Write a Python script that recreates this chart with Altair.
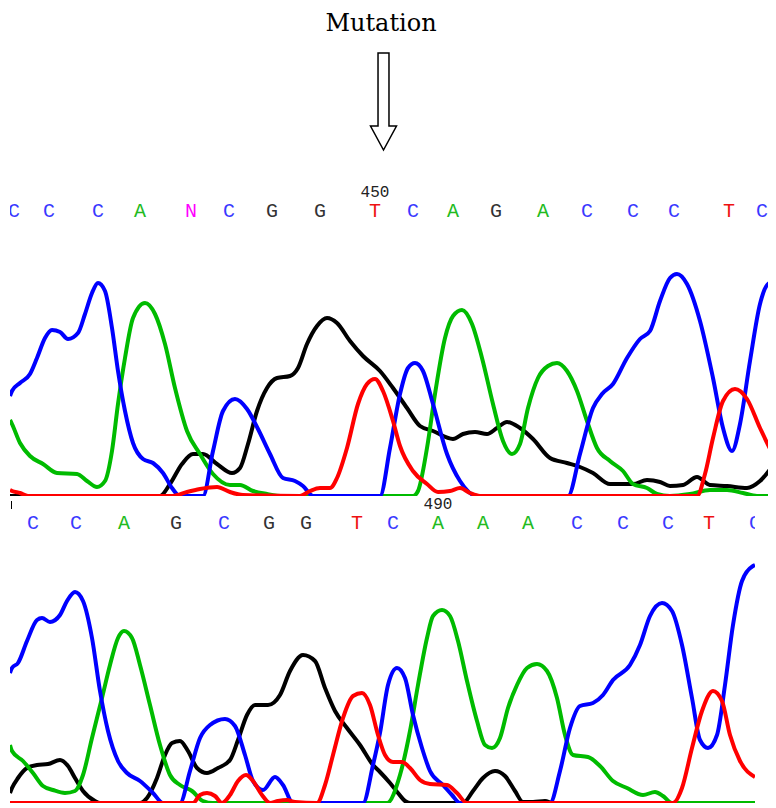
import altair as alt
import pandas as pd

# ---------------- data ----------------
# Base calls (letter, scan position) for the two chromatogram rows
TOP_BASES = ["C", "C", "C", "A", "N", "C", "G", "G", "T", "C", "A", "G", "A", "C", "C", "C", "T", "C"]
TOP_POS = [14, 49, 98, 140, 191, 229, 272, 320, 375, 413, 453, 496, 543, 587, 633, 674, 729, 762]
BOTTOM_BASES = ["C", "C", "A", "G", "C", "G", "G", "T", "C", "A", "A", "A", "C", "C", "C", "T", "C"]
BOTTOM_POS = [33, 76, 124, 176, 224, 269, 306, 357, 393, 438, 483, 528, 577, 623, 668, 709, 755]

TOP_LABEL = ["450"]
TOP_LABEL_POS = [375]
BOTTOM_LABEL = ["490"]
BOTTOM_LABEL_POS = [438]

TITLE = ["Mutation"]

# Traces: (scan, signal)
TOP_G = [(10, 0), (160, 0), (170, 12), (182, 32), (193, 42), (203, 42), (217, 32), (232, 23), (240, 28),
         (248, 52), (257, 85), (267, 108), (277, 118), (290, 120), (298, 128), (307, 152), (317, 170),
         (327, 178), (337, 173), (350, 155), (363, 140), (380, 125), (393, 108), (407, 88), (420, 70),
         (433, 65), (453, 57), (463, 62), (475, 64), (487, 62), (497, 68), (507, 74), (520, 68), (533, 57),
         (550, 38), (567, 33), (580, 29), (593, 23), (610, 12), (633, 12), (647, 16), (660, 14), (670, 10),
         (683, 11), (697, 19), (710, 11), (727, 10), (747, 8), (760, 15), (776, 35)]
TOP_A = [(10, 76), (12, 72), (20, 53), (30, 40), (43, 32), (57, 23), (77, 22), (87, 15), (97, 9), (105, 15),
         (112, 45), (118, 92), (125, 138), (133, 178), (145, 193), (155, 182), (165, 152), (175, 108),
         (187, 65), (200, 42), (213, 22), (230, 11), (240, 11), (253, 5), (267, 2), (283, 0), (413, 0),
         (418, 5), (427, 48), (435, 102), (445, 158), (453, 180), (462, 186), (472, 172), (482, 138),
         (493, 92), (503, 55), (512, 42), (520, 52), (528, 88), (538, 118), (548, 130), (557, 133),
         (567, 125), (577, 105), (587, 75), (597, 48), (610, 35), (623, 25), (633, 12), (647, 8), (657, 2),
         (670, 0), (690, 2), (710, 6), (727, 6), (743, 3), (757, 0), (776, 0)]
TOP_C = [(10, 100), (12, 105), (20, 113), (30, 122), (37, 138), (45, 158), (52, 166), (60, 164), (68, 157),
         (78, 163), (85, 182), (92, 203), (98, 213), (105, 205), (112, 168), (118, 125), (125, 85), (133, 53),
         (143, 37), (153, 33), (163, 23), (172, 8), (180, 0), (203, 0), (213, 45), (223, 85), (235, 97),
         (247, 87), (258, 67), (270, 42), (283, 18), (295, 15), (303, 10), (313, 0), (380, 0), (390, 48),
         (400, 102), (408, 128), (415, 133), (423, 125), (433, 92), (447, 42), (460, 15), (477, 0), (568, 0),
         (580, 42), (593, 88), (602, 102), (613, 112), (627, 138), (640, 157), (650, 165), (660, 195),
         (670, 218), (677, 222), (687, 212), (700, 175), (713, 118), (723, 68), (732, 45), (740, 72),
         (750, 135), (760, 192), (768, 212), (776, 215)]
TOP_T = [(10, 6), (12, 5), (20, 3), (28, 0), (173, 0), (187, 4), (200, 7), (217, 9), (230, 4), (243, 1),
         (300, 0), (310, 5), (320, 8), (330, 8), (337, 18), (347, 48), (358, 92), (367, 112), (375, 117),
         (383, 105), (393, 75), (400, 50), (413, 25), (427, 12), (438, 4), (450, 5), (460, 8), (470, 3),
         (480, 0), (697, 0), (705, 22), (713, 58), (723, 95), (735, 107), (747, 97), (760, 68), (776, 35)]

BOTTOM_G = [(10, 10), (12, 15), (18, 25), (27, 35), (37, 38), (48, 39), (60, 43), (68, 37), (75, 25), (83, 12),
            (95, 2), (100, 0), (140, 0), (147, 5), (157, 25), (165, 48), (172, 60), (180, 62), (188, 52),
            (197, 35), (207, 30), (218, 35), (230, 43), (238, 63), (247, 88), (255, 98), (268, 98), (280, 108),
            (290, 132), (303, 148), (315, 142), (325, 115), (335, 92), (347, 75), (360, 58), (373, 38),
            (380, 31), (390, 20), (398, 10), (405, 2), (410, 0), (463, 0), (473, 12), (483, 25), (495, 32),
            (505, 27), (515, 12), (523, 1), (533, 1), (545, 2), (553, 0), (755, 0)]
BOTTOM_A = [(10, 58), (12, 52), (23, 42), (33, 30), (43, 17), (53, 13), (65, 10), (75, 12), (83, 28), (92, 65),
            (102, 105), (110, 138), (118, 165), (124, 172), (132, 165), (140, 138), (150, 98), (160, 58),
            (170, 28), (180, 18), (192, 12), (203, 2), (213, 0), (387, 0), (400, 28), (410, 72), (418, 118),
            (427, 165), (433, 187), (442, 193), (450, 187), (458, 162), (467, 122), (477, 82), (485, 58),
            (492, 55), (500, 65), (508, 95), (517, 118), (527, 135), (537, 139), (547, 132), (557, 105),
            (565, 68), (573, 48), (588, 46), (600, 37), (613, 22), (627, 15), (643, 8), (655, 11), (663, 7),
            (672, 0), (755, 0)]
BOTTOM_C = [(10, 130), (12, 135), (18, 140), (27, 162), (37, 183), (42, 185), (50, 181), (60, 188), (67, 202),
            (75, 211), (83, 202), (92, 165), (100, 112), (108, 72), (118, 42), (127, 30), (140, 22), (153, 10),
            (163, 0), (180, 0), (190, 32), (200, 65), (210, 78), (225, 84), (235, 77), (245, 48), (253, 22),
            (263, 13), (275, 26), (283, 18), (293, 0), (363, 0), (373, 38), (380, 70), (388, 118), (397, 135),
            (405, 125), (413, 88), (422, 55), (430, 32), (443, 18), (452, 8), (460, 0), (550, 0), (560, 32),
            (570, 75), (580, 97), (593, 100), (603, 108), (613, 123), (630, 138), (640, 158), (650, 187),
            (662, 200), (672, 192), (682, 158), (692, 105), (700, 63), (708, 55), (717, 68), (725, 118),
            (733, 178), (742, 222), (753, 237), (755, 238)]
BOTTOM_T = [(10, 0), (193, 0), (200, 8), (207, 10), (215, 7), (222, 0), (230, 8), (238, 22), (246, 28),
            (253, 22), (262, 8), (270, 0), (278, 2), (287, 3), (295, 1), (317, 0), (325, 18), (333, 48),
            (343, 85), (353, 107), (362, 110), (370, 98), (378, 68), (385, 48), (393, 41), (402, 41), (410, 35),
            (420, 23), (430, 19), (447, 18), (457, 10), (467, 0), (673, 0), (682, 15), (692, 55), (702, 92),
            (713, 112), (722, 102), (730, 68), (740, 42), (755, 26)]

# ---------------- styles ----------------
TRACE_COLORS = {"G": "#000000", "A": "#00bb00", "C": "#0000ff", "T": "#ff0000"}
LETTER_DOMAIN = ["A", "C", "G", "T", "N"]
LETTER_RANGE = ["#22bb22", "#3a3aff", "#333333", "#ee1111", "#ff00ff"]
MONO = "Liberation Mono"
ARROW = ("M -0.113 -1 L 0.113 -1 L 0.113 0.505 L 0.268 0.505 L 0 1 "
         "L -0.268 0.505 L -0.113 0.505 Z")


def panel(traces, xdom, ydom, width, height, bases, pos, label, label_pos,
          base_y, label_y, extras):
    xs = alt.X("scan:Q", scale=alt.Scale(domain=xdom, nice=False, zero=False), axis=None)
    ys = alt.Y("signal:Q", scale=alt.Scale(domain=ydom, nice=False, zero=False), axis=None)
    layers = []
    for b in ["G", "A", "C", "T"]:
        df = pd.DataFrame(traces[b], columns=["scan", "signal"])
        layers.append(
            alt.Chart(df).mark_line(interpolate="monotone", clip=True, strokeWidth=4,
                                    color=TRACE_COLORS[b], strokeJoin="round")
            .encode(x=xs, y=ys)
        )
    letters = alt.Chart(pd.DataFrame({"scan": pos, "base": bases})).mark_text(
        font=MONO, fontSize=20, baseline="alphabetic", align="center", clip=True
    ).encode(
        x=xs, y=alt.value(base_y), text="base:N",
        color=alt.Color("base:N", scale=alt.Scale(domain=LETTER_DOMAIN, range=LETTER_RANGE), legend=None),
    )
    num = alt.Chart(pd.DataFrame({"scan": label_pos, "lab": label})).mark_text(
        font=MONO, fontSize=16, baseline="alphabetic", align="center", color="#222222"
    ).encode(x=xs, y=alt.value(label_y), text="lab:N")
    layers += [letters, num] + extras
    return alt.layer(*layers).properties(width=width, height=height)


title = alt.Chart(pd.DataFrame({"t": TITLE})).mark_text(
    font="DejaVu Serif", fontSize=24, baseline="alphabetic", align="center", color="black"
).encode(x=alt.value(371), y=alt.value(23), text="t:N")

arrow = alt.Chart(pd.DataFrame({"t": TITLE})).mark_point(
    shape=ARROW, size=9409, filled=False, color="black", strokeWidth=1.5, opacity=1
).encode(x=alt.value(373.5), y=alt.value(93.5))

tick = alt.Chart(pd.DataFrame({"t": [0]})).mark_rule(color="black", strokeWidth=1).encode(
    x=alt.value(1.5), y=alt.value(2), y2=alt.value(10)
)

# whole chart must stay within the 760px-wide page body
top = panel({"G": TOP_G, "A": TOP_A, "C": TOP_C, "T": TOP_T}, [10, 768], [0, 488], 758, 488,
            TOP_BASES, TOP_POS, TOP_LABEL, TOP_LABEL_POS, 209, 189, [title, arrow])
bottom = panel({"G": BOTTOM_G, "A": BOTTOM_A, "C": BOTTOM_C, "T": BOTTOM_T}, [10, 755], [0, 304], 745, 304,
               BOTTOM_BASES, BOTTOM_POS, BOTTOM_LABEL, BOTTOM_LABEL_POS, 30, 10, [tick])

chart = alt.vconcat(top, bottom, spacing=0).resolve_scale(
    x="independent", y="independent"
).properties(
    padding={"left": 2, "top": 0, "right": 0, "bottom": 0}
).configure_view(stroke=None)

chart.save("out.html", embed_options={"renderer": "svg", "actions": False})
